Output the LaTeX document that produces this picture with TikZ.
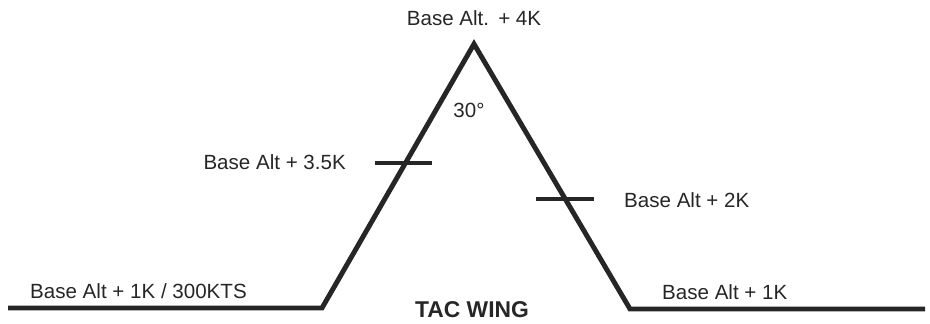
\documentclass[tikz,border=0pt]{standalone}
\usepackage{fontspec}
\setmainfont{Liberation Sans}
\begin{document}
\begin{tikzpicture}[x=0.02cm, y=-0.02cm, font=\fontsize{11.7}{14}\selectfont, black!85]
      \useasboundingbox (0,0) rectangle (930,324);
      \tikzset{leg/.style={line width=2.8pt, line join=miter}}
      \coordinate (start) at (8,308);
      \coordinate (climb) at (322,308);
      \coordinate (apex) at (474,44);
      \coordinate (dive) at (630,309);
      \coordinate (finish) at (925,309);
      \draw[leg] (start)--(climb)--(apex)--(dive)--(finish);
      % altitude gates
      \coordinate (gateL) at (375,163);
      \coordinate (gateLend) at (432,163);
      \coordinate (gateR) at (536,199);
      \coordinate (gateRend) at (594,199);
      \draw[leg] (gateL)--(gateLend);
      \draw[leg] (gateR)--(gateRend);
    \node (top) at (474,18){Base Alt.\ \,+ 4K};
    \node (angle) at (469,110){30\textdegree};
    \node[left] (alt35) at (352,162){Base Alt + 3.5K};
    \node[right] (alt2) at (618,200){Base Alt + 2K};
    \node[right] (entry) at (24,291){Base Alt + 1K / 300KTS};
    \node[right] (exit) at (656,292){Base Alt + 1K};
    \node[font=\fontsize{13}{15}\selectfont\bfseries] (wing) at (472,310){TAC WING};

    \end{tikzpicture}
\end{document}
